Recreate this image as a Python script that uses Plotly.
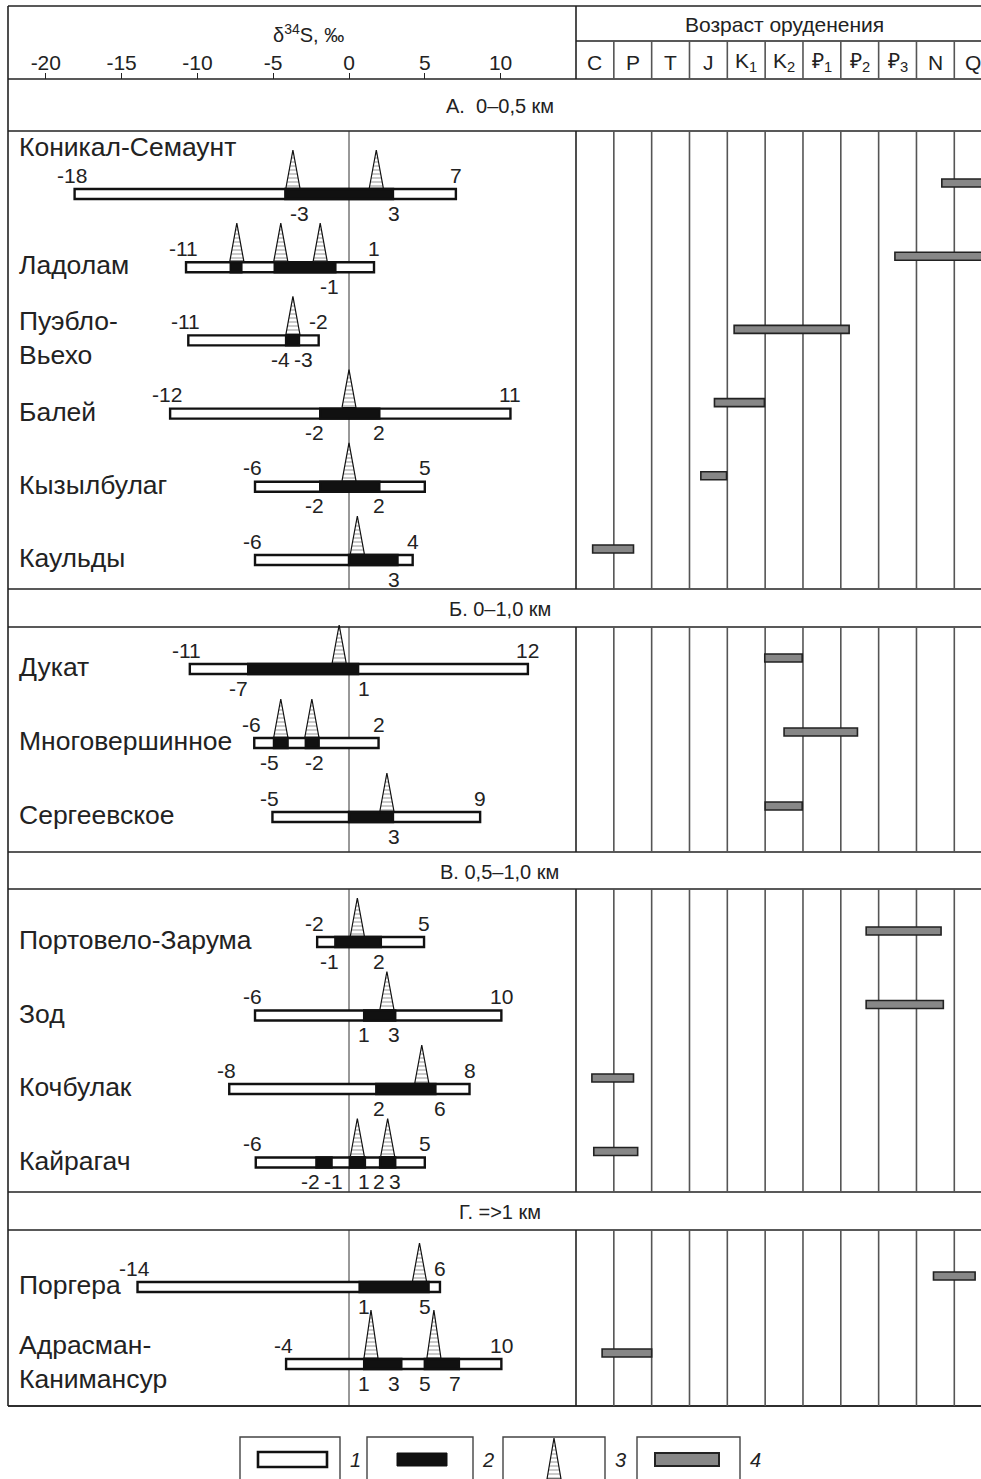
import plotly.graph_objects as go

W, H = 981, 1479

# ---------------- data ----------------
section_titles = ["А.  0–0,5 км", "Б. 0–1,0 км", "В. 0,5–1,0 км", "Г. =>1 км"]

deposit_names = ["Коникал-Семаунт", "Ладолам", "Пуэбло-<br>Вьехо", "Балей", "Кызылбулаг",
                 "Каульды", "Дукат", "Многовершинное", "Сергеевское", "Портовело-Зарума",
                 "Зод", "Кочбулак", "Кайрагач", "Поргера", "Адрасман-<br>Канимансур"]
deposit_section = [0, 0, 0, 0, 0, 0, 1, 1, 1, 2, 2, 2, 2, 3, 3]

# total range of δ34S (white bar, legend 1)
range_min = [-18.1, -10.75, -10.6, -11.8, -6.2, -6.2, -10.5, -6.25, -5.05, -2.1, -6.2, -7.9, -6.15, -13.95, -4.15]
range_max = [7.05, 1.65, -2.0, 10.65, 5.0, 4.2, 11.8, 1.95, 8.65, 4.95, 10.05, 7.95, 5.0, 6.0, 10.05]
range_min_label = ["-18", "-11", "-11", "-12", "-6", "-6", "-11", "-6", "-5", "-2", "-6", "-8", "-6", "-14", "-4"]
range_max_label = ["7", "1", "-2", "11", "5", "4", "12", "2", "9", "5", "10", "8", "5", "6", "10"]

# most frequent values (black segments, legend 2): [lo, hi] pairs per deposit
dense_segments = [
    [[-4.2, 2.9]],
    [[-7.8, -7.1], [-4.9, -0.9]],
    [[-4.15, -3.3]],
    [[-1.9, 2.0]],
    [[-1.9, 2.0]],
    [[0.0, 3.2]],
    [[-6.65, 0.6]],
    [[-4.95, -4.05], [-2.85, -2.0]],
    [[0.0, 2.9]],
    [[-0.9, 2.1]],
    [[1.0, 3.05]],
    [[1.8, 5.7]],
    [[-2.15, -1.15], [0.05, 1.05], [2.05, 3.05]],
    [[0.7, 5.25]],
    [[1.0, 3.45], [5.0, 7.25]],
]
dense_labels = [[-3, 3], [-1], [-4, -3], [-2, 2], [-2, 2], [3], [-7, 1], [-5, -2], [3],
                [-1, 2], [1, 3], [2, 6], [-2, -1, 1, 2, 3], [1, 5], [1, 3, 5, 7]]

# histogram peaks (triangles, legend 3)
peaks = [[-3.7, 1.8], [-7.4, -4.5, -1.9], [-3.7], [0.0], [0.0], [0.55], [-0.65],
         [-4.5, -2.45], [2.5], [0.55], [2.5], [4.8], [0.55, 2.55], [4.65], [1.45, 5.6]]

# age of mineralization (gray bars, legend 4), in column units: 0 = start of C
age_columns = ["C", "P", "T", "J", "K<sub>1</sub>", "K<sub>2</sub>", "₽<sub>1</sub>",
               "₽<sub>2</sub>", "₽<sub>3</sub>", "N", "Q"]
age_start = [9.67, 8.43, 4.18, 3.66, 3.30, 0.44, 4.99, 5.50, 5.00, 7.67, 7.67, 0.42, 0.47, 9.45, 0.69]
age_end = [11.2, 11.2, 7.22, 4.98, 3.98, 1.52, 5.98, 7.44, 5.98, 9.65, 9.71, 1.52, 1.63, 10.55, 2.00]

d34s_ticks = [-20, -15, -10, -5, 0, 5, 10]

# ---------------- layout constants ----------------
FONT = "Liberation Sans, Arial, Helvetica, sans-serif"
INK = "#222222"
GRID = "#555555"
NUM_SIZE = 21
X_LEFT, X_MID = 8, 576
ZERO_PX, S_PX = 349, 15.16
COL_PX = 37.83
TOP, HEAD_MID, HEAD_BOT = 6, 41, 79
SEC_LAYOUT = [  # header height, body height, first row offset, row pitch
    dict(head=52, body=458, first=63, pitch=73.2),
    dict(head=38, body=225, first=42, pitch=74),
    dict(head=37, body=303, first=53, pitch=73.5),
    dict(head=38, body=176, first=57, pitch=77),
]
NAME_ABOVE = {0: -47}
PEAK_H = {14: 48}

def px(x):
    return x / W

xr1 = [(X_LEFT - ZERO_PX) / S_PX, (X_MID - ZERO_PX) / S_PX]
xr2 = [0, (W - X_MID) / COL_PX]

# section geometry and row centres
sec_geo = []
y = HEAD_BOT
for s in SEC_LAYOUT:
    h0, h1 = y, y + s["head"]
    b1 = h1 + s["body"]
    sec_geo.append((h0, h1, b1))
    y = b1
row_y = []
counter = {}
for i, sidx in enumerate(deposit_section):
    k = counter.get(sidx, 0)
    counter[sidx] = k + 1
    s = SEC_LAYOUT[sidx]
    row_y.append(sec_geo[sidx][1] + s["first"] + k * s["pitch"])
BOTTOM = sec_geo[-1][2]

fig = go.Figure()

# white total-range bars
fig.add_trace(go.Bar(
    orientation="h", y=row_y, base=range_min,
    x=[b - a for a, b in zip(range_min, range_max)],
    width=10, marker=dict(color="white", line=dict(color="#111", width=2.4)),
    xaxis="x", yaxis="y", showlegend=False))

# black dense segments
dy, dbase, dlen = [], [], []
for i, segs in enumerate(dense_segments):
    for lo, hi in segs:
        dy.append(row_y[i]); dbase.append(lo); dlen.append(hi - lo)
fig.add_trace(go.Bar(
    orientation="h", y=dy, base=dbase, x=dlen, width=10,
    marker=dict(color="#111", line=dict(color="#111", width=2.4)),
    xaxis="x", yaxis="y", showlegend=False))

# triangles (peaks)
half_w = 7 / S_PX
tx, ty = [], []
for i, pk in enumerate(peaks):
    base_y = row_y[i] - 6
    hgt = PEAK_H.get(i, 38)
    for p in pk:
        tx += [p - half_w, p, p + half_w, p - half_w, None]
        ty += [base_y, base_y - hgt, base_y, base_y, None]
fig.add_trace(go.Scatter(
    x=tx, y=ty, mode="lines", fill="toself", fillcolor="white",
    fillpattern=dict(shape="-", fgcolor="#666", bgcolor="white", size=4, solidity=0.35),
    line=dict(color="#111", width=1.2), xaxis="x", yaxis="y", showlegend=False,
    hoverinfo="skip"))

# gray age bars
fig.add_trace(go.Bar(
    orientation="h", y=[v - 11 for v in row_y], base=age_start,
    x=[b - a for a, b in zip(age_start, age_end)], width=8,
    marker=dict(color="#878787", line=dict(color="#222", width=1.6)),
    xaxis="x2", yaxis="y", showlegend=False))

shapes = []
def line(x0, y0, x1, y1, xref="paper", color=INK, width=1.6):
    shapes.append(dict(type="line", xref=xref, yref="y", x0=x0, y0=y0, x1=x1, y1=y1,
                       line=dict(color=color, width=width), layer="below"))

# frame and header
line(px(X_LEFT), TOP, 1, TOP)
line(px(X_LEFT), TOP, px(X_LEFT), BOTTOM)
line(px(X_LEFT), BOTTOM, 1, BOTTOM)
line(px(X_MID), TOP, px(X_MID), HEAD_BOT)
line(px(X_MID), HEAD_MID, 1, HEAD_MID)
line(px(X_LEFT), HEAD_BOT, 1, HEAD_BOT)
for c in range(1, len(age_columns)):
    line(c, HEAD_MID, c, HEAD_BOT, xref="x2", color=GRID)

annotations = []
def text(x, y, s, xref="paper", size=NUM_SIZE, **kw):
    d = dict(x=x, y=y, xref=xref, yref="y", text=s, showarrow=False,
             xanchor=kw.pop("xanchor", "center"), yanchor="middle",
             font=dict(size=size, color=INK))
    d.update(kw)
    annotations.append(d)

for sidx, (h0, h1, b1) in enumerate(sec_geo):
    line(px(X_LEFT), h1, 1, h1)
    line(px(X_LEFT), b1, 1, b1)
    line(px(X_MID), h1, px(X_MID), b1)
    line(0, h1, 0, b1, xref="x", color="#333", width=1)
    for c in range(1, len(age_columns)):
        line(c, h1, c, b1, xref="x2", color=GRID, width=1.6)
    text(px(500), (h0 + h1) / 2 + 1, section_titles[sidx], size=20)

text(px(308), 33, "δ<sup>34</sup>S, ‰", size=20)
text(px(784), 24, "Возраст оруденения", size=21)
for c, lab in enumerate(age_columns):
    text(c + 0.5, 62, lab, xref="x2")

def label_width(s, size=NUM_SIZE):
    return size * sum(0.333 if ch == "-" else 0.556 for ch in s)

for i, name in enumerate(deposit_names):
    text(px(17), row_y[i] + NAME_ABOVE.get(i, -2), name, size=26.5, xanchor="left", align="left")
    text(range_min[i], row_y[i] - 19, range_min_label[i], xref="x", xshift=-3)
    text(range_max[i], row_y[i] - 19, range_max_label[i], xref="x")
    # bottom labels: digit centred on value, pushed apart if they would collide
    labs = [str(v) for v in dense_labels[i]]
    pos = [ZERO_PX + v * S_PX - (4 if v < 0 else 0) for v in dense_labels[i]]
    for _ in range(10):
        for j in range(len(pos) - 1):
            need = (label_width(labs[j]) + label_width(labs[j + 1])) / 2 + 4
            gap = pos[j + 1] - pos[j]
            if gap < need:
                pos[j] -= (need - gap) / 2
                pos[j + 1] += (need - gap) / 2
    for v, lab, p in zip(dense_labels[i], labs, pos):
        text(v, row_y[i] + 19, lab, xref="x", xshift=p - (ZERO_PX + v * S_PX))

# legend
leg_boxes = [(240, 340), (367, 473), (503, 605), (637, 740)]
for k, (a, b) in enumerate(leg_boxes):
    shapes.append(dict(type="rect", xref="paper", yref="y", x0=px(a), x1=px(b), y0=1437, y1=1490,
                       line=dict(color="#444", width=1.4)))
    text(px(b + 15), 1460, f"<i>{k + 1}</i>", size=20)
shapes.append(dict(type="rect", xref="paper", yref="y", x0=px(258), x1=px(327), y0=1452, y1=1467,
                   fillcolor="white", line=dict(color="#111", width=2.6)))
shapes.append(dict(type="rect", xref="paper", yref="y", x0=px(397), x1=px(447), y0=1453, y1=1466,
                   fillcolor="#111", line=dict(color="#111", width=1)))
shapes.append(dict(type="rect", xref="paper", yref="y", x0=px(655), x1=px(719), y0=1453, y1=1466,
                   fillcolor="#878787", line=dict(color="#222", width=2)))
lx = (554 - ZERO_PX) / S_PX
fig.add_trace(go.Scatter(
    x=[lx - half_w, lx, lx + half_w, lx - half_w], y=[1479, 1438, 1479, 1479],
    mode="lines", fill="toself", fillcolor="white",
    fillpattern=dict(shape="-", fgcolor="#666", bgcolor="white", size=4, solidity=0.35),
    line=dict(color="#111", width=1.2), xaxis="x", yaxis="y", showlegend=False, hoverinfo="skip"))

fig.update_layout(
    width=W, height=H, margin=dict(l=0, r=0, t=0, b=0),
    paper_bgcolor="white", plot_bgcolor="white", barmode="overlay", hovermode=False,
    font=dict(family=FONT, color=INK),
    shapes=shapes, annotations=annotations, showlegend=False,
    xaxis=dict(domain=[px(X_LEFT), px(X_MID)], range=xr1, anchor="free",
               position=1 - HEAD_BOT / H, side="top", tickvals=d34s_ticks,
               ticktext=[str(t) for t in d34s_ticks], ticks="outside", ticklen=6,
               tickwidth=1.4, tickcolor=INK, showgrid=False, zeroline=False, showline=False,
               ticklabelstandoff=-5,
               tickfont=dict(size=NUM_SIZE, color=INK)),
    xaxis2=dict(domain=[px(X_MID), 1], range=xr2, anchor="y", showticklabels=False,
                ticks="", showgrid=False, zeroline=False, showline=False),
    yaxis=dict(domain=[0, 1], range=[H, 0], visible=False, showgrid=False, zeroline=False),
)

fig.write_html("out.html")
